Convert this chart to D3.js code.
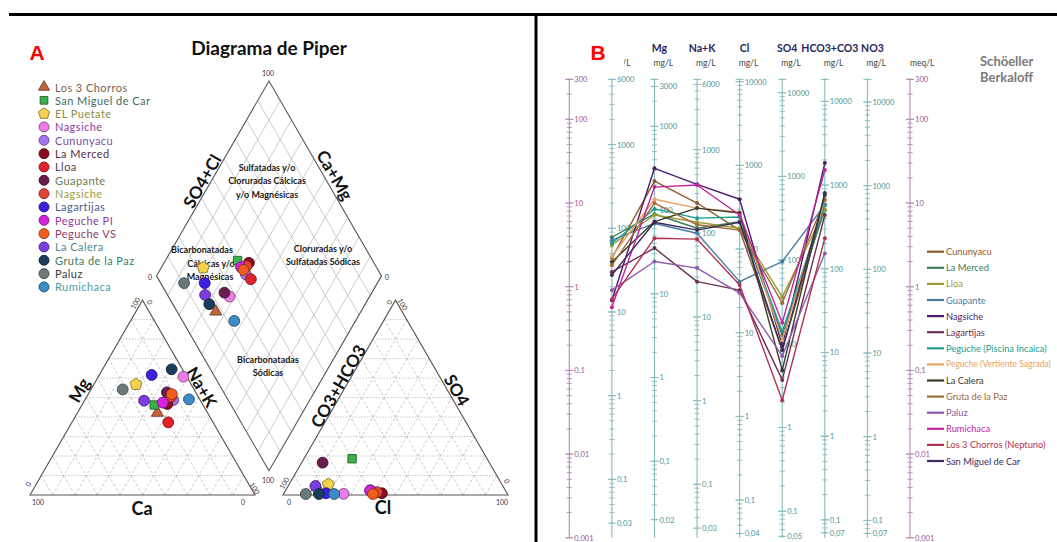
<!DOCTYPE html>
<html>
<head>
<meta charset="utf-8">
<script src="https://cdn.jsdelivr.net/npm/d3@7"></script>
<style>
  body { margin: 0; background: #fff; }
  svg { display: block; font-family: Lato, "Open Sans", sans-serif; }
</style>
</head>
<body>
<svg id="chart" width="1057" height="542"></svg>
<script>
// ---------------- Piper samples (percent of meq) ----------------
const piperNames = ["Los 3 Chorros", "San Miguel de Car", "EL Puetate", "Nagsiche", "Cununyacu",
  "La Merced", "Lloa", "Guapante", "Nagsiche", "Lagartijas", "Peguche PI", "Peguche VS",
  "La Calera", "Gruta de la Paz", "Paluz", "Rumichaca"];
const piperShapes = ["triangle", "square", "pentagon", "circle", "circle", "circle", "circle", "circle",
  "circle", "circle", "circle", "circle", "circle", "circle", "circle", "circle"];
const piperColors = ["#c4643c", "#3cb04c", "#f2d24a", "#ea7ce8", "#a274f0", "#8a0c22", "#e0222c", "#6c1c4c",
  "#e24432", "#3c22e0", "#d424e2", "#f25c1c", "#7c3ce0", "#1c3c5c", "#6a7a7a", "#3c8cc8"];
const piperTextColors = ["#7c5c4c", "#3c6c5c", "#8c8c42", "#8c3c9c", "#7c4ca2", "#5c2c3c", "#5c3c4c", "#6c7c4c",
  "#9c9c42", "#4c5c8c", "#8c3c9c", "#8c3c6c", "#4c8c8c", "#3c7c5c", "#3c3c3c", "#4c9ca2"];
const cationCa  = [22.3, 21.7, 24.5, 1.5, 12.0, 15.6, 19.9, 12.8, 12.0, 15.1, 17.3, 11.1, 25.1, 4.8, 31.7, 4.8];
const cationMg  = [42.2, 46.2, 56.8, 60.7, 48.7, 46.7, 37.3, 52.7, 50.5, 61.6, 47.4, 51.8, 48.4, 64.5, 54.2, 49.1];
const cationNaK = [35.5, 32.1, 18.7, 37.8, 39.3, 37.7, 42.8, 34.5, 37.5, 23.3, 35.3, 37.1, 26.5, 30.7, 14.1, 46.1];
const anionHCO3 = [82.8, 60.0, 77.1, 72.8, 59.9, 55.6, 58.9, 74.1, 57.5, 80.4, 60.2, 59.8, 83.3, 83.8, 89.6, 77.0];
const anionSO4  = [4.0, 18.6, 5.5, 0.6, 2.5, 0.9, 1.0, 16.6, 1.5, 0.9, 2.2, 0.5, 4.6, 0.5, 0.5, 0.5];
const anionCl   = [13.2, 21.4, 17.4, 26.6, 37.6, 43.5, 40.1, 9.3, 41.0, 18.7, 37.6, 39.7, 12.1, 15.7, 9.9, 22.5];

// ---------------- Schoeller-Berkaloff samples (meq/L) ----------------
const schoellerNames = ["Cununyacu", "La Merced", "Lloa", "Guapante", "Nagsiche", "Lagartijas",
  "Peguche (Piscina Incaica)", "Peguche (Vertiente Sagrada)", "La Calera", "Gruta de la Paz", "Paluz",
  "Rumichaca", "Los 3 Chorros (Neptuno)", "San Miguel de Car"];
const schoellerColors = ["#8c5a2c", "#3c7c5c", "#9c9a32", "#4a7ca2", "#4c1c6c", "#6c3052", "#1c9c8c",
  "#e4a462", "#3a3a2c", "#9c6a3a", "#8c5cac", "#c422a2", "#b23252", "#3c2c5c"];
const meqCa   = [2.2, 3.9, 3.15, 3.6, 0.69, 1.5, 3.3, 2.3, 1.97, 1.8, 0.91, 0.57, 0.71, 1.38];
const meqMg   = [18.3, 7.4, 7.2, 5.7, 26.0, 2.9, 8.5, 11.1, 6.0, 10.0, 2.0, 15.5, 3.8, 5.9];
const meqNaK  = [10.0, 5.0, 5.9, 4.35, 16.7, 1.15, 6.6, 8.7, 8.7, 5.5, 1.67, 16.4, 3.7, 4.75];
const meqCl   = [4.75, 6.0, 5.0, 1.15, 11.1, 0.91, 6.8, 7.8, 7.6, 4.75, 0.84, 7.2, 1.05, 5.9];
const meqSO4  = [0.175, 0.265, 0.75, 2.0, 0.20, 0.077, 0.29, 0.23, 0.10, 0.64, 0.149, 0.37, 0.044, 0.175];
const meqHCO3 = [9.5, 8.25, 8.25, 9.5, 30.1, 7.2, 9.5, 10.9, 13.2, 10.9, 2.5, 24.8, 3.8, 12.5];

// axis columns of the Schoeller diagram
const axisKeys = ["meqL", "Ca", "Mg", "Na+K", "Cl", "SO4", "HCO3+CO3", "NO3", "meqR"];
const ionKeys = ["Ca", "Mg", "Na+K", "Cl", "SO4", "HCO3+CO3", "NO3"];
const ionHeaders = ["Ca", "Mg", "Na+K", "Cl", "SO4", "HCO3+CO3", "NO3"];
const eqWeights = [20.04, 12.15, 22.99, 35.45, 48.03, 61.02, 62.0];
const mgTopLabels = [6000, 3000, 6000, 10000, 10000, 10000, 10000];
const mgBottomLabels = [0.03, 0.02, 0.03, 0.04, 0.05, 0.07, 0.07];
const meqLabels = [300, 100, 10, 1, 0.1, 0.01, 0.001];

const W = 1057, H = 542;
const svg = d3.select("#chart");

// ---------------- frame ----------------
svg.append("line").attr("x1", 9).attr("x2", W).attr("y1", 14.5).attr("y2", 14.5)
  .attr("stroke", "#000").attr("stroke-width", 3);
svg.append("line").attr("x1", 536).attr("x2", 536).attr("y1", 14).attr("y2", H)
  .attr("stroke", "#000").attr("stroke-width", 3);

// ================= PIPER =================
const piper = svg.append("g");
const SIDE = 225, GAP = 28, BASE_Y = 495, LEFT_X = 30;
const H_TRI = SIDE * Math.sqrt(3) / 2;
const pctX = d3.scaleLinear().domain([0, 100]).range([0, SIDE]);
const pctY = d3.scaleLinear().domain([0, 100]).range([0, H_TRI]);
const ANION_X = LEFT_X + SIDE + GAP;
const DIA_X = LEFT_X + SIDE + GAP / 2, DIA_Y = BASE_Y - GAP / 2 * Math.sqrt(3);

function cationXY(mg, nak) { return [LEFT_X + pctX(nak + mg / 2), BASE_Y - pctY(mg)]; }
function anionXY(so4, cl) { return [ANION_X + pctX(cl + so4 / 2), BASE_Y - pctY(so4)]; }
function diamondXY(cm, sc) { return [DIA_X + pctX((sc - cm) / 2), DIA_Y - pctY(sc + cm)]; }

const line = d3.line();
const gridStroke = "#a8a8a8";

// triangle and diamond grids, every 10 %
for (let i = 1; i < 10; i++) {
  const t = i * 10;
  piper.append("path").attr("d", line([cationXY(t, 0), cationXY(t, 100 - t)]))
    .attr("stroke", "#b8b8b8").attr("stroke-width", 0.8).attr("stroke-dasharray", "1.5,1.5").attr("fill", "none");
  piper.append("path").attr("d", line([cationXY(0, t), cationXY(100 - t, t)]))
    .attr("stroke", gridStroke).attr("stroke-width", 0.6).attr("stroke-dasharray", "3,2").attr("fill", "none");
  piper.append("path").attr("d", line([cationXY(0, 100 - t), cationXY(100 - t, 0)]))
    .attr("stroke", gridStroke).attr("stroke-width", 0.6).attr("stroke-dasharray", "3,2").attr("fill", "none");
  piper.append("path").attr("d", line([anionXY(t, 0), anionXY(t, 100 - t)]))
    .attr("stroke", "#b8b8b8").attr("stroke-width", 0.8).attr("stroke-dasharray", "1.5,1.5").attr("fill", "none");
  piper.append("path").attr("d", line([anionXY(0, t), anionXY(100 - t, t)]))
    .attr("stroke", gridStroke).attr("stroke-width", 0.6).attr("stroke-dasharray", "3,2").attr("fill", "none");
  piper.append("path").attr("d", line([anionXY(0, 100 - t), anionXY(100 - t, 0)]))
    .attr("stroke", gridStroke).attr("stroke-width", 0.6).attr("stroke-dasharray", "3,2").attr("fill", "none");
  piper.append("path").attr("d", line([diamondXY(t, 0), diamondXY(t, 100)]))
    .attr("stroke", "#b4b4b4").attr("stroke-width", 0.7).attr("fill", "none");
  piper.append("path").attr("d", line([diamondXY(0, t), diamondXY(100, t)]))
    .attr("stroke", "#b4b4b4").attr("stroke-width", 0.7).attr("fill", "none");
}

// outlines
const outline = "#555";
piper.append("path").attr("d", line([cationXY(0, 0), cationXY(0, 100), cationXY(100, 0)]) + "Z")
  .attr("fill", "none").attr("stroke", outline).attr("stroke-width", 1.1);
piper.append("path").attr("d", line([anionXY(0, 0), anionXY(0, 100), anionXY(100, 0)]) + "Z")
  .attr("fill", "none").attr("stroke", outline).attr("stroke-width", 1.1);
piper.append("path").attr("d", line([diamondXY(0, 0), diamondXY(100, 0), diamondXY(100, 100), diamondXY(0, 100)]) + "Z")
  .attr("fill", "none").attr("stroke", outline).attr("stroke-width", 1.1);

// title and panel letter
svg.append("text").attr("x", 269).attr("y", 55).attr("text-anchor", "middle")
  .attr("font-size", 19).attr("font-weight", "bold").attr("fill", "#111").text("Diagrama de Piper");
svg.append("text").attr("x", 37).attr("y", 60).attr("text-anchor", "middle")
  .attr("font-family", "Liberation Sans, Arial, sans-serif")
  .attr("font-size", 21).attr("font-weight", "bold").attr("fill", "#f00").text("A");

// axis names
function rotLabel(g, x, y, angle, txt, size) {
  g.append("text").attr("transform", `translate(${x},${y}) rotate(${angle})`)
    .attr("text-anchor", "middle").attr("dominant-baseline", "central")
    .attr("font-size", size).attr("font-weight", "bold").attr("fill", "#111").text(txt);
}
rotLabel(piper, 79, 390, -60, "Mg", 17);
rotLabel(piper, 202, 387, 60, "Na+K", 17);
rotLabel(piper, 142, 508, 0, "Ca", 18);
rotLabel(piper, 338, 386, -60, "CO3+HCO3", 17);
rotLabel(piper, 457, 390, 60, "SO4", 17);
rotLabel(piper, 383, 507, 0, "Cl", 18);
rotLabel(piper, 202, 181, -60, "SO4+Cl", 17);
rotLabel(piper, 335, 175, 60, "Ca+Mg", 17);

// scale end labels
function tickLabel(x, y, angle, txt) {
  piper.append("text").attr("transform", `translate(${x},${y}) rotate(${angle})`)
    .attr("text-anchor", "middle").attr("dominant-baseline", "central")
    .attr("font-size", 7).attr("fill", "#333").text(txt);
}
tickLabel(38, 502, 0, "100"); tickLabel(243, 502, 0, "0");
tickLabel(28, 484, -60, "0"); tickLabel(135, 303, -60, "100");
tickLabel(150, 302, 60, "0"); tickLabel(255, 488, 60, "100");
tickLabel(289, 502, 0, "0"); tickLabel(502, 502, 0, "100");
tickLabel(284, 483, -60, "100"); tickLabel(389, 302, -60, "0");
tickLabel(403, 304, 60, "100"); tickLabel(507, 481, 60, "0");
tickLabel(268, 73, 0, "100"); tickLabel(150, 277, 0, "0");
tickLabel(387, 277, 0, "0"); tickLabel(268, 480, 0, "100");

// water-type regions in the diamond
function regionText(x, y, txt) {
  piper.append("text").attr("x", x).attr("y", y).attr("text-anchor", "middle")
    .attr("dominant-baseline", "central").attr("font-size", 9).attr("font-weight", "bold")
    .attr("fill", "#1a1a1a").text(txt);
}
regionText(267, 167, "Sulfatadas y/o");
regionText(267, 180, "Cloruradas Cálcicas");
regionText(267, 194, "y/o Magnésicas");
regionText(202, 249, "Bicarbonatadas");
regionText(211, 263, "Cálcicas y/o");
regionText(210, 276, "Magnésicas");
regionText(323, 248, "Cloruradas y/o");
regionText(323, 261, "Sulfatadas Sódicas");
regionText(268, 359, "Bicarbonatadas");
regionText(268, 372, "Sódicas");

// marker shapes
const pentagon = {
  draw(ctx, size) {
    const r = Math.sqrt(size / 2.378);
    for (let k = 0; k < 5; k++) {
      const a = -Math.PI / 2 + k * 2 * Math.PI / 5;
      if (k === 0) ctx.moveTo(r * Math.cos(a), r * Math.sin(a));
      else ctx.lineTo(r * Math.cos(a), r * Math.sin(a));
    }
    ctx.closePath();
  }
};
const shapeTypes = { triangle: d3.symbolTriangle, square: d3.symbolSquare, pentagon: pentagon, circle: d3.symbolCircle };
const shapeSizes = { triangle: 62, square: 70, pentagon: 95, circle: 92 };
function marker(g, i, x, y, scale) {
  const s = piperShapes[i];
  g.append("path")
    .attr("d", d3.symbol().type(shapeTypes[s]).size(shapeSizes[s] * scale)())
    .attr("transform", `translate(${x},${y})`)
    .attr("fill", piperColors[i])
    .attr("stroke", d3.color(piperColors[i]).darker(1.6))
    .attr("stroke-width", 0.9);
}

// legend
const pLegend = svg.append("g");
piperNames.forEach((n, i) => {
  const y = 87 + i * 13.33;
  marker(pLegend, i, 44, y, 0.85);
  pLegend.append("text").attr("x", 55).attr("y", y).attr("dominant-baseline", "central")
    .attr("font-size", 11).attr("letter-spacing", 0.45).attr("fill", piperTextColors[i]).text(n);
});

// data points in the three fields
const pts = piper.append("g");
piperNames.forEach((n, i) => {
  const c = cationXY(cationMg[i], cationNaK[i]);
  const a = anionXY(anionSO4[i], anionCl[i]);
  const d = diamondXY(cationCa[i] + cationMg[i], anionSO4[i] + anionCl[i]);
  marker(pts, i, c[0], c[1], 1);
  marker(pts, i, a[0], a[1], 1);
  marker(pts, i, d[0], d[1], 1);
});

// ================= SCHOELLER - BERKALOFF =================
const sch = svg.append("g");
const xAxis = d3.scalePoint().domain(axisKeys).range([569.3, 910]);
const yMeq = d3.scaleLog().domain([0.001, 300]).range([537.8, 79.4]);
const fmt = v => String(v).replace(".", ",");

function minorValues(scale) {
  const [lo, hi] = scale.domain();
  const out = [];
  for (let e = Math.floor(Math.log10(lo)); e <= Math.ceil(Math.log10(hi)); e++) {
    for (let k = 1; k <= 9; k++) {
      const v = k * Math.pow(10, e);
      if (v >= lo * 0.999 && v <= hi * 1.001) out.push(v);
    }
  }
  return out;
}

function drawLogAxis(x, scale, labels, lineColor, textColor) {
  const g = sch.append("g");
  const [y0, y1] = scale.range();
  g.append("line").attr("x1", x).attr("x2", x).attr("y1", y0).attr("y2", y1 - 1)
    .attr("stroke", lineColor).attr("stroke-width", 1.1);
  g.append("line").attr("x1", x - 4).attr("x2", x + 4).attr("y1", y1).attr("y2", y1)
    .attr("stroke", lineColor).attr("stroke-width", 1);
  minorValues(scale).forEach(v => {
    const big = Math.abs(Math.log10(v) - Math.round(Math.log10(v))) < 1e-9;
    g.append("line").attr("x1", x - (big ? 4 : 2.6)).attr("x2", x + (big ? 4 : 2.6))
      .attr("y1", scale(v)).attr("y2", scale(v)).attr("stroke", lineColor).attr("stroke-width", 0.9);
  });
  labels.forEach(v => {
    g.append("line").attr("x1", x - 4).attr("x2", x + 4).attr("y1", scale(v)).attr("y2", scale(v))
      .attr("stroke", lineColor).attr("stroke-width", 0.9);
    g.append("text").attr("x", x + 5).attr("y", scale(v)).attr("dominant-baseline", "central")
      .attr("font-size", 7.6).attr("fill", textColor).text(fmt(v));
  });
}

// meq/L scales at both ends
drawLogAxis(xAxis("meqL"), yMeq, meqLabels, "#b58ab5", "#9a5a9a");
drawLogAxis(xAxis("meqR"), yMeq, meqLabels, "#b58ab5", "#9a5a9a");

// one mg/L scale per ion, aligned on the meq/L scale through the equivalent weight
ionKeys.forEach((k, i) => {
  const w = eqWeights[i];
  const s = d3.scaleLog().domain([0.001 * w, 300 * w]).range(yMeq.range());
  const labels = [mgTopLabels[i]];
  for (let e = 3; e >= -1; e--) { const v = Math.pow(10, e); if (v < mgTopLabels[i]) labels.push(+v.toFixed(3)); }
  labels.push(mgBottomLabels[i]);
  drawLogAxis(xAxis(k), s, labels, "#86bcbc", "#4f9696");
});

// headers
ionKeys.forEach((k, i) => {
  sch.append("text").attr("x", xAxis(k) + 5).attr("y", 52).attr("text-anchor", "middle")
    .attr("font-size", 10.5).attr("font-weight", "bold").attr("fill", "#26265e").text(ionHeaders[i]);
  sch.append("text").attr("x", xAxis(k) - 1).attr("y", 66)
    .attr("font-size", 8.5).attr("fill", "#444").text("mg/L");
});
sch.append("text").attr("x", xAxis("meqL")).attr("y", 66).attr("font-size", 8.5).attr("fill", "#444").text("meq/L");
sch.append("text").attr("x", xAxis("meqR")).attr("y", 66).attr("font-size", 8.5).attr("fill", "#444").text("meq/L");

// sample profiles
const ionSeries = [meqCa, meqMg, meqNaK, meqCl, meqSO4, meqHCO3];
const profileKeys = ionKeys.slice(0, 6);
const profLine = d3.line().x(d => xAxis(d.k)).y(d => yMeq(d.v));
const prof = sch.append("g");
schoellerNames.forEach((n, i) => {
  const pts = profileKeys.map((k, j) => ({ k, v: ionSeries[j][i] }));
  prof.append("path").attr("d", profLine(pts)).attr("fill", "none")
    .attr("stroke", schoellerColors[i]).attr("stroke-width", 1.4).attr("stroke-linejoin", "round");
  prof.selectAll(null).data(pts).join("circle")
    .attr("cx", d => xAxis(d.k)).attr("cy", d => yMeq(d.v)).attr("r", 2)
    .attr("fill", schoellerColors[i]);
});

// panel letter box
svg.append("rect").attr("x", 566).attr("y", 36).attr("width", 58).attr("height", 33).attr("fill", "#fff");
svg.append("text").attr("x", 598).attr("y", 60).attr("text-anchor", "middle")
  .attr("font-family", "Liberation Sans, Arial, sans-serif")
  .attr("font-size", 21).attr("font-weight", "bold").attr("fill", "#f00").text("B");

// title
sch.append("text").attr("x", 980).attr("y", 66).attr("font-size", 13).attr("font-weight", "bold")
  .attr("fill", "#7a7a7a").text("Schöeller");
sch.append("text").attr("x", 980).attr("y", 82).attr("font-size", 13).attr("font-weight", "bold")
  .attr("fill", "#7a7a7a").text("Berkaloff");

// legend (long names get a smaller font so they stay inside the panel)
const legendX = 946, legendMaxW = W - legendX - 6, legendFont = 9.3;
schoellerNames.forEach((n, i) => {
  const y = 251.7 + i * 16.1;
  sch.append("line").attr("x1", 927).attr("x2", 944).attr("y1", y).attr("y2", y)
    .attr("stroke", schoellerColors[i]).attr("stroke-width", 2.2);
  const t = sch.append("text").attr("x", legendX).attr("y", y).attr("dominant-baseline", "central")
    .attr("font-size", legendFont).attr("fill", schoellerColors[i]).text(n);
  const w = t.node().getComputedTextLength();
  if (w > legendMaxW) t.attr("font-size", (legendFont * legendMaxW / w).toFixed(2));
});
</script>
</body>
</html>
